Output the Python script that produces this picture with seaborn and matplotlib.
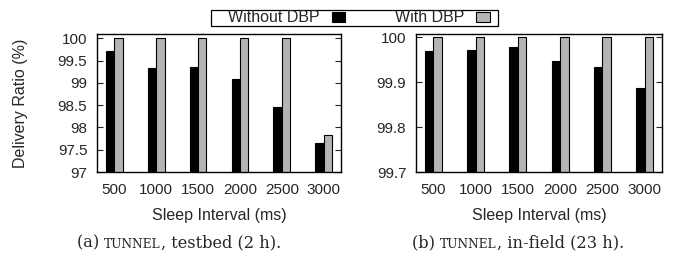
import matplotlib
matplotlib.use("Agg")
import matplotlib.pyplot as plt
import pandas as pd
import seaborn as sns

intervals = ["500", "1000", "1500", "2000", "2500", "3000"]
series = ["Without DBP", "With DBP"]

testbed_without = [99.72, 99.33, 99.35, 99.10, 98.47, 97.65]
testbed_with = [100.0, 100.0, 100.0, 100.0, 100.0, 97.83]

infield_without = [99.968, 99.972, 99.978, 99.947, 99.934, 99.887]
infield_with = [100.0, 100.0, 100.0, 100.0, 100.0, 100.0]

testbed_ticks = [97, 97.5, 98, 98.5, 99, 99.5, 100]
testbed_ticklabels = ["97", "97.5", "98", "98.5", "99", "99.5", "100"]
infield_ticks = [99.7, 99.8, 99.9, 100]
infield_ticklabels = ["99.7", "99.8", "99.9", "100"]

colors = {"Without DBP": "#000000", "With DBP": "#b4b4b4"}


def long_form(without, with_):
    return pd.DataFrame(
        {
            "interval": intervals * 2,
            "series": [series[0]] * len(intervals) + [series[1]] * len(intervals),
            "ratio": list(without) + list(with_),
        }
    )


sns.set_style("white")
plt.rcParams["font.family"] = ["Liberation Sans", "DejaVu Sans"]
plt.rcParams["font.size"] = 11

fig = plt.figure(figsize=(6.77, 2.6), dpi=100)
ax1 = fig.add_axes([97 / 677, 1 - 172 / 260, 244 / 677, 138 / 260])
ax2 = fig.add_axes([416 / 677, 1 - 172 / 260, 246 / 677, 138 / 260])

panels = [
    (ax1, testbed_without, testbed_with, (97, 100.1), testbed_ticks, testbed_ticklabels),
    (ax2, infield_without, infield_with, (99.7, 100.0067), infield_ticks, infield_ticklabels),
]

for ax, without, with_, ylim, ticks, ticklabels in panels:
    df = long_form(without, with_)
    sns.barplot(
        data=df, x="interval", y="ratio", hue="series", order=intervals,
        hue_order=series, palette=colors, width=0.4, edgecolor="black",
        linewidth=0.8, ax=ax, legend=False, saturation=1,
    )
    ax.set_ylim(*ylim)
    ax.set_xlim(-0.413, 5.413)
    ax.set_yticks(ticks)
    ax.set_yticklabels(ticklabels)
    ax.set_xlabel("Sleep Interval (ms)", fontsize=11.5, labelpad=8)
    ax.set_ylabel("")
    ax.tick_params(axis="y", direction="in", length=4.5, width=0.8, left=True, right=True, pad=7, labelsize=11)
    ax.tick_params(axis="x", length=0, pad=8, labelsize=11)
    for sp in ax.spines.values():
        sp.set_visible(True)
        sp.set_color("black")
        sp.set_linewidth(1.0)

ax1.set_ylabel("Delivery Ratio (%)", fontsize=11.5)
ax1.yaxis.set_label_coords(-0.283, 0.5)

# gnuplot-style key: text first, then sample, inside a plain box
handles = [
    plt.Rectangle((0, 0), 1, 1, facecolor=colors[s], edgecolor="black", linewidth=0.8)
    for s in series
]
leg = fig.legend(
    handles, series, ncol=2, loc="center", bbox_to_anchor=(359 / 677, 1 - 18 / 260),
    markerfirst=False, frameon=False, fontsize=11.5,
    handlelength=0.85, handleheight=0.6, handletextpad=0.75, columnspacing=3.1,
    borderpad=0, borderaxespad=0,
)
fig.patches.append(
    plt.Rectangle((211 / 677, 1 - 26 / 260), 287 / 677, 16 / 260, transform=fig.transFigure,
                  facecolor="none", edgecolor="black", linewidth=0.9)
)

serif = ["DejaVu Serif"]


def caption(x, label, rest):
    t1 = fig.text(x, 1 - 247 / 260, label, family=serif, fontsize=11.7, va="baseline")
    a = ax2.annotate("TUNNEL", xy=(1, 0), xycoords=t1, va="bottom", ha="left",
                     family=serif, fontsize=8.8, annotation_clip=False)
    ax2.annotate(rest, xy=(1, 0), xycoords=a, va="bottom", ha="left",
                 family=serif, fontsize=11.7, annotation_clip=False)


caption(77 / 677, "(a) ", ", testbed (2 h).")
caption(412 / 677, "(b) ", ", in-field (23 h).")

fig.savefig("out.png", dpi=100)
